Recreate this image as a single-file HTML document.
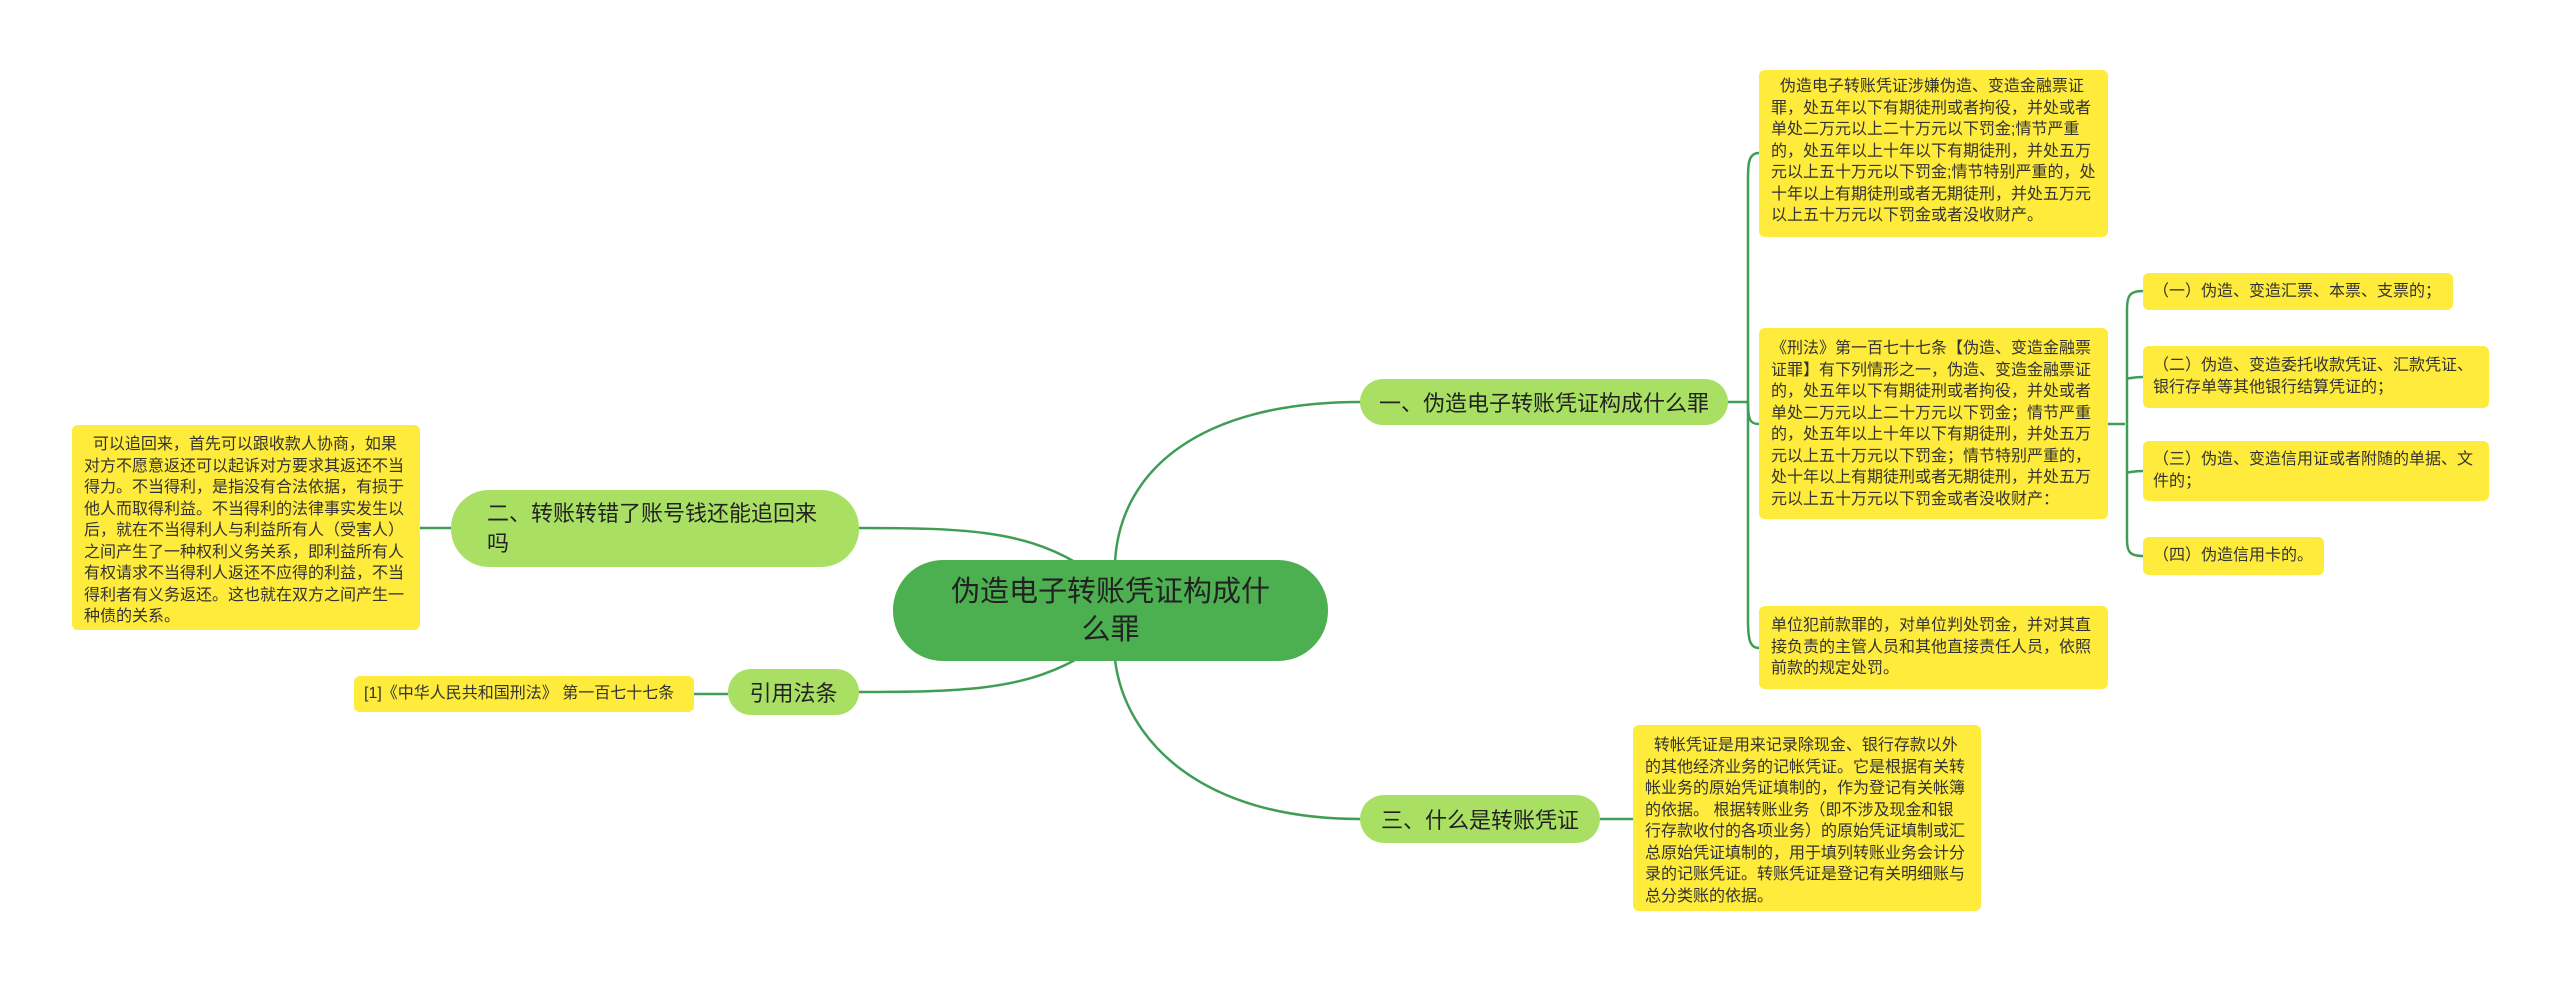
<!DOCTYPE html>
<html><head><meta charset="utf-8"><style>
body{margin:0;width:2560px;height:985px;background:#fff;position:relative;overflow:hidden;font-family:"Liberation Sans","Noto Sans CJK SC",sans-serif;}
.n{position:absolute;box-sizing:border-box;}
.leaf{background:#ffeb3b;border-radius:6px;color:#333;font-size:16px;line-height:21.5px;padding:6px 12px;text-align:left;word-break:break-all;}
.sub{font-size:16px;padding:6px 10px;}
.br{background:#a9e063;border-radius:26px;color:#222;font-size:22px;display:flex;align-items:center;padding:0 20px;white-space:nowrap;}
svg{position:absolute;left:0;top:0;}
</style></head><body>
<svg width="2560" height="985" fill="none" stroke="#3f9d55" stroke-width="2.5">
<path d="M1115 562 C1120 470 1200 402 1360 402"/>
<path d="M1115 660 C1125 740 1200 819 1360 819"/>
<path d="M1075 562 C1020 530 960 528 859 528"/>
<path d="M1075 660 C1020 690 960 692 859 692"/>
<path d="M1728 402 L1748 402"/>
<path d="M1759 153 C1748 153 1748 165 1748 180 L1748 620 C1748 640 1750 648 1759 648"/>
<path d="M1748 402 C1748 420 1750 424 1759 424"/>
<path d="M2108 424 L2125 424"/>
<path d="M2143 291 C2130 291 2127 295 2127 310 L2127 540 C2127 552 2130 556 2143 556"/>
<path d="M2127 377 C2127 380 2130 377 2143 377"/>
<path d="M2127 471 C2127 474 2130 471 2143 471"/>
<path d="M1600 819 L1633 819"/>
<path d="M420 528 L451 528"/>
<path d="M694 694 L728 694"/>
</svg>
<div class="n" style="left:893px;top:560px;width:435px;height:101px;background:#4caf50;border-radius:50px;color:#222;font-size:29px;line-height:38px;text-align:center;display:flex;align-items:center;justify-content:center;padding:0 50px;">伪造电子转账凭证构成什么罪</div>
<div class="n br" style="left:1360px;top:379px;width:368px;height:46px;justify-content:center;padding:0;">一、伪造电子转账凭证构成什么罪</div>
<div class="n br" style="left:451px;top:490px;width:408px;height:77px;line-height:30px;border-radius:38px;white-space:normal;padding:0 36px;">二、转账转错了账号钱还能追回来吗</div>
<div class="n br" style="left:728px;top:669px;width:131px;height:46px;justify-content:center;padding:0;">引用法条</div>
<div class="n br" style="left:1360px;top:795px;width:240px;height:48px;justify-content:center;padding:0;">三、什么是转账凭证</div>
<div class="n leaf" style="left:72px;top:425px;width:348px;height:205px;line-height:21.5px;padding-top:9px;">&nbsp;&nbsp;可以追回来，首先可以跟收款人协商，如果对方不愿意返还可以起诉对方要求其返还不当得力。不当得利，是指没有合法依据，有损于他人而取得利益。不当得利的法律事实发生以后，就在不当得利人与利益所有人（受害人）之间产生了一种权利义务关系，即利益所有人有权请求不当得利人返还不应得的利益，不当得利者有义务返还。这也就在双方之间产生一种债的关系。</div>
<div class="n leaf sub" style="left:354px;top:676px;width:340px;height:36px;display:flex;align-items:center;white-space:nowrap;">[1]《中华人民共和国刑法》 第一百七十七条</div>
<div class="n leaf" style="left:1759px;top:70px;width:349px;height:167px;">&nbsp;&nbsp;伪造电子转账凭证涉嫌伪造、变造金融票证罪，处五年以下有期徒刑或者拘役，并处或者单处二万元以上二十万元以下罚金;情节严重的，处五年以上十年以下有期徒刑，并处五万元以上五十万元以下罚金;情节特别严重的，处十年以上有期徒刑或者无期徒刑，并处五万元以上五十万元以下罚金或者没收财产。</div>
<div class="n leaf" style="left:1759px;top:328px;width:349px;height:191px;padding-top:10px;">《刑法》第一百七十七条【伪造、变造金融票证罪】有下列情形之一，伪造、变造金融票证的，处五年以下有期徒刑或者拘役，并处或者单处二万元以上二十万元以下罚金；情节严重的，处五年以上十年以下有期徒刑，并处五万元以上五十万元以下罚金；情节特别严重的，处十年以上有期徒刑或者无期徒刑，并处五万元以上五十万元以下罚金或者没收财产：</div>
<div class="n leaf" style="left:1759px;top:606px;width:349px;height:83px;padding-top:9px;">单位犯前款罪的，对单位判处罚金，并对其直接负责的主管人员和其他直接责任人员，依照前款的规定处罚。</div>
<div class="n leaf sub" style="left:2143px;top:273px;width:310px;height:37px;display:flex;align-items:center;white-space:nowrap;">（一）伪造、变造汇票、本票、支票的；</div>
<div class="n leaf sub" style="left:2143px;top:346px;width:346px;height:62px;padding-top:9px;">（二）伪造、变造委托收款凭证、汇款凭证、银行存单等其他银行结算凭证的；</div>
<div class="n leaf sub" style="left:2143px;top:441px;width:346px;height:60px;padding-top:8px;">（三）伪造、变造信用证或者附随的单据、文件的；</div>
<div class="n leaf sub" style="left:2143px;top:537px;width:181px;height:38px;display:flex;align-items:center;white-space:nowrap;">（四）伪造信用卡的。</div>
<div class="n leaf" style="left:1633px;top:725px;width:348px;height:186px;padding-top:10px;">&nbsp;&nbsp;转帐凭证是用来记录除现金、银行存款以外的其他经济业务的记帐凭证。它是根据有关转帐业务的原始凭证填制的，作为登记有关帐簿的依据。 根据转账业务（即不涉及现金和银行存款收付的各项业务）的原始凭证填制或汇总原始凭证填制的，用于填列转账业务会计分录的记账凭证。转账凭证是登记有关明细账与总分类账的依据。</div>
</body></html>
